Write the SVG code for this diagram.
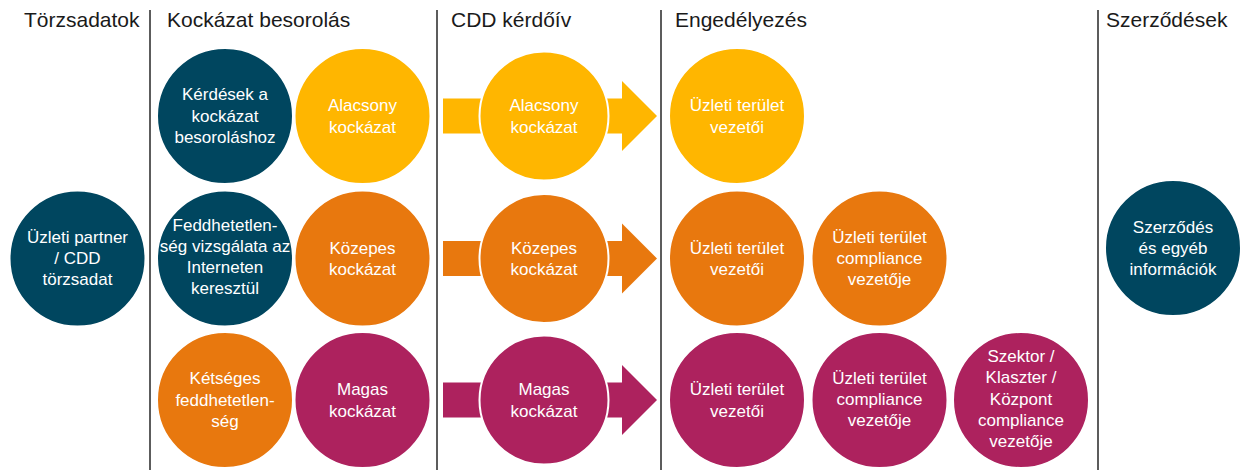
<svg xmlns="http://www.w3.org/2000/svg" width="1241" height="470" viewBox="0 0 1241 470">
<style>
.hdr{font-family:"Liberation Sans",Arial,sans-serif;font-size:21px;fill:#1a1a1a}
.lbl{font-family:"Liberation Sans",Arial,sans-serif;font-size:17px;fill:#ffffff;text-anchor:middle}
.div{stroke:#262626;stroke-width:1.5;fill:none}
.c{stroke:#ffffff;stroke-width:2}
.blue{fill:#00465f}
.yel{fill:#ffb600}
.org{fill:#e8780e}
.mag{fill:#ad225e}
</style>
<rect width="1241" height="470" fill="#ffffff"/>
<g id="lanes">
<line class="div" x1="150" y1="10" x2="150" y2="470"/>
<line class="div" x1="437" y1="10" x2="437" y2="470"/>
<line class="div" x1="661" y1="10" x2="661" y2="470"/>
<line class="div" x1="1098" y1="10" x2="1098" y2="470"/>
<text class="hdr" x="24" y="27">Törzsadatok</text>
<text class="hdr" x="167" y="27">Kockázat besorolás</text>
<text class="hdr" x="451" y="27">CDD kérdőív</text>
<text class="hdr" x="675" y="27">Engedélyezés</text>
<text class="hdr" x="1106" y="27">Szerződések</text>
</g>
<g id="connectors">
<path class="yel" d="M443,98.5H622V81L657,116L622,151V133.5H443Z"/>
<path class="org" d="M443,241H622V223.5L657,258.5L622,293.5V276H443Z"/>
<path class="mag" d="M443,382.5H622V365L657,400L622,435V417.5H443Z"/>
</g>
<g id="torzsadat">
<circle class="c blue" cx="77.5" cy="258.5" r="68"/>
<text class="lbl"><tspan x="77.5" y="242.5">Üzleti partner</tspan><tspan x="77.5" y="263.5">/ CDD</tspan><tspan x="77.5" y="284.5">törzsadat</tspan></text>
</g>
<g id="kerdesek">
<circle class="c blue" cx="225" cy="116" r="68"/>
<text class="lbl"><tspan x="225" y="100">Kérdések a</tspan><tspan x="225" y="121.5">kockázat</tspan><tspan x="225" y="143">besoroláshoz</tspan></text>
</g>
<g id="alacsony">
<circle class="c yel" cx="362.5" cy="116" r="68"/>
<text class="lbl"><tspan x="362.5" y="111">Alacsony</tspan><tspan x="362.5" y="132.5">kockázat</tspan></text>
</g>
<g id="feddhetetlenseg">
<circle class="c blue" cx="225" cy="258.5" r="68"/>
<text class="lbl"><tspan x="225" y="230.5">Feddhetetlen-</tspan><tspan x="225" y="251.5">ség vizsgálata az</tspan><tspan x="225" y="272.5">Interneten</tspan><tspan x="225" y="293.5">keresztül</tspan></text>
</g>
<g id="kozepes">
<circle class="c org" cx="362.5" cy="258.5" r="68"/>
<text class="lbl"><tspan x="362.5" y="253.5">Közepes</tspan><tspan x="362.5" y="275">kockázat</tspan></text>
</g>
<g id="ketseges">
<circle class="c org" cx="225" cy="400" r="68"/>
<text class="lbl"><tspan x="225" y="384">Kétséges</tspan><tspan x="225" y="405.5">feddhetetlen-</tspan><tspan x="225" y="427">ség</tspan></text>
</g>
<g id="magas">
<circle class="c mag" cx="362.5" cy="400" r="68"/>
<text class="lbl"><tspan x="362.5" y="395">Magas</tspan><tspan x="362.5" y="416.5">kockázat</tspan></text>
</g>
<g id="cdd-alacsony">
<circle class="c yel" cx="544" cy="116" r="64.5" stroke-width="2.5"/>
<text class="lbl"><tspan x="544" y="111">Alacsony</tspan><tspan x="544" y="132.5">kockázat</tspan></text>
</g>
<g id="cdd-kozepes">
<circle class="c org" cx="544" cy="258.5" r="64.5" stroke-width="2.5"/>
<text class="lbl"><tspan x="544" y="253.5">Közepes</tspan><tspan x="544" y="275">kockázat</tspan></text>
</g>
<g id="cdd-magas">
<circle class="c mag" cx="544" cy="400" r="64.5" stroke-width="2.5"/>
<text class="lbl"><tspan x="544" y="395">Magas</tspan><tspan x="544" y="416.5">kockázat</tspan></text>
</g>
<g id="eng-alacsony-vezetoi">
<circle class="c yel" cx="737" cy="116" r="68"/>
<text class="lbl"><tspan x="737" y="111">Üzleti terület</tspan><tspan x="737" y="132.5">vezetői</tspan></text>
</g>
<g id="eng-kozepes-vezetoi">
<circle class="c org" cx="737" cy="258.5" r="68"/>
<text class="lbl"><tspan x="737" y="253.5">Üzleti terület</tspan><tspan x="737" y="275">vezetői</tspan></text>
</g>
<g id="eng-kozepes-compliance">
<circle class="c org" cx="879.5" cy="258.5" r="68"/>
<text class="lbl"><tspan x="879.5" y="242.5">Üzleti terület</tspan><tspan x="879.5" y="263.5">compliance</tspan><tspan x="879.5" y="284.5">vezetője</tspan></text>
</g>
<g id="eng-magas-vezetoi">
<circle class="c mag" cx="737" cy="400" r="68"/>
<text class="lbl"><tspan x="737" y="395">Üzleti terület</tspan><tspan x="737" y="416.5">vezetői</tspan></text>
</g>
<g id="eng-magas-compliance">
<circle class="c mag" cx="879.5" cy="400" r="68"/>
<text class="lbl"><tspan x="879.5" y="384">Üzleti terület</tspan><tspan x="879.5" y="405">compliance</tspan><tspan x="879.5" y="426">vezetője</tspan></text>
</g>
<g id="eng-magas-szektor">
<circle class="c mag" cx="1021" cy="400" r="68"/>
<text class="lbl"><tspan x="1021" y="362">Szektor /</tspan><tspan x="1021" y="383.3">Klaszter /</tspan><tspan x="1021" y="404.6">Központ</tspan><tspan x="1021" y="425.9">compliance</tspan><tspan x="1021" y="447.2">vezetője</tspan></text>
</g>
<g id="szerzodes">
<circle class="c blue" cx="1173" cy="248" r="68"/>
<text class="lbl"><tspan x="1173" y="233">Szerződés</tspan><tspan x="1173" y="254">és egyéb</tspan><tspan x="1173" y="275">információk</tspan></text>
</g>
</svg>
